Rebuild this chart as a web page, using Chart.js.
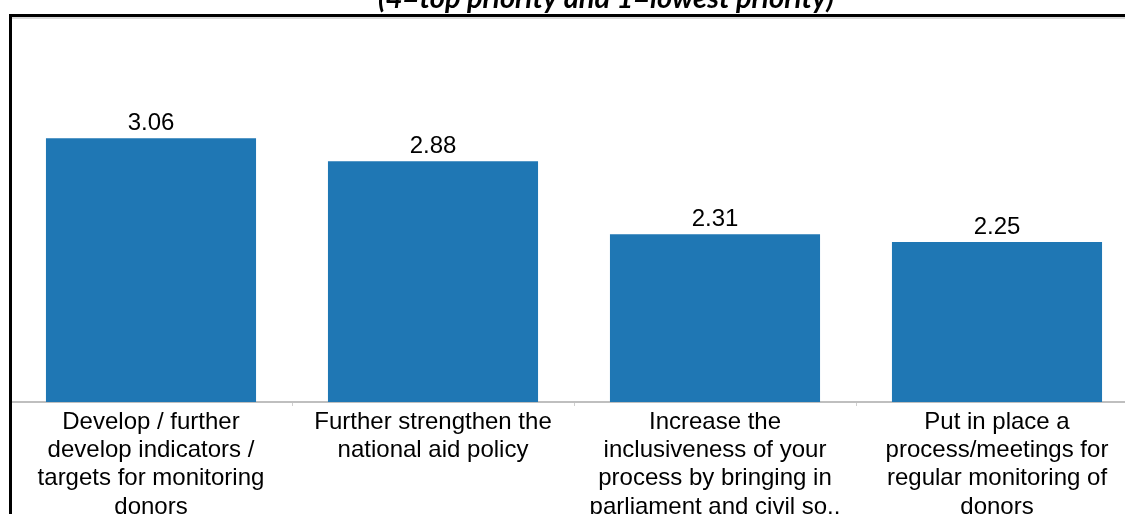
<!DOCTYPE html>
<html>
<head>
<meta charset="utf-8">
<script src="https://cdn.jsdelivr.net/npm/chart.js@4"></script>
<style>
  html, body { margin: 0; padding: 0; overflow: hidden; background: #fff; }
  #wrap { position: relative; width: 1125px; height: 514px; overflow: hidden; }
  #chart { position: absolute; left: 0; top: 0; }
  #frame {
    position: absolute; left: 9px; top: 14px; width: 1200px; height: 600px;
    border-top: 3px solid #000; border-left: 3px solid #000; pointer-events: none;
  }
</style>
</head>
<body>
<div id="wrap">
  <canvas id="chart" width="1140" height="514"></canvas>
  <div id="frame"></div>
</div>
<script>
const titleText = "(4=top priority and 1=lowest priority)";
const categories = [
    ["Develop / further", "develop indicators /", "targets for monitoring", "donors"],
    ["Further strengthen the", "national aid policy"],
    ["Increase the", "inclusiveness of your", "process by bringing in", "parliament and civil so.."],
    ["Put in place a", "process/meetings for", "regular monitoring of", "donors"]
];
const priorityScores = [3.06, 2.88, 2.31, 2.25];
const yMin = 1;
const yMax = 4;

const labelFont = "'Liberation Sans', Arial, sans-serif";

// value labels above the bars + cut-off title at the very top
const valueLabels = {
    id: "valueLabels",
    afterDatasetsDraw(chart) {
        const c = chart.ctx;
        const meta = chart.getDatasetMeta(0);
        c.save();
        c.fillStyle = "#000";
        c.font = "24px " + labelFont;
        c.textAlign = "center";
        c.textBaseline = "alphabetic";
        meta.data.forEach((bar, i) => {
            c.fillText(priorityScores[i].toFixed(2), bar.x, bar.y - 8);
        });
        c.font = "italic bold 29px Lato, 'Open Sans', sans-serif";
        c.fillText(titleText, 606, 8);
        c.restore();
    }
};

new Chart(document.getElementById("chart"), {
    type: "bar",
    data: {
        labels: categories,
        datasets: [{
            data: priorityScores,
            backgroundColor: "#1f77b4",
            categoryPercentage: 1,
            barPercentage: 0.745
        }]
    },
    options: {
        responsive: false,
        animation: false,
        layout: { padding: { left: 10, right: 2, top: 18, bottom: 0 } },
        plugins: {
            legend: { display: false },
            tooltip: { enabled: false },
            title: { display: false }
        },
        scales: {
            x: {
                offset: true,
                border: { display: true, color: "#bfbfbf", width: 2 },
                grid: { display: true, drawOnChartArea: false, offset: true, tickLength: 4, color: "#cfcfcf" },
                ticks: {
                    autoSkip: false,
                    maxRotation: 0,
                    minRotation: 0,
                    padding: 2,
                    color: "#000",
                    font: { family: labelFont, size: 24, lineHeight: 1.18 }
                },
                afterFit: (scale) => { scale.height = 112; }
            },
            y: {
                min: yMin,
                max: yMax,
                border: { display: false },
                grid: { drawTicks: false, color: "#d9d9d9", lineWidth: 2 },
                ticks: { display: false, stepSize: 3 },
                afterFit: (scale) => { scale.width = 0; }
            }
        }
    },
    plugins: [valueLabels]
});
</script>
</body>
</html>
